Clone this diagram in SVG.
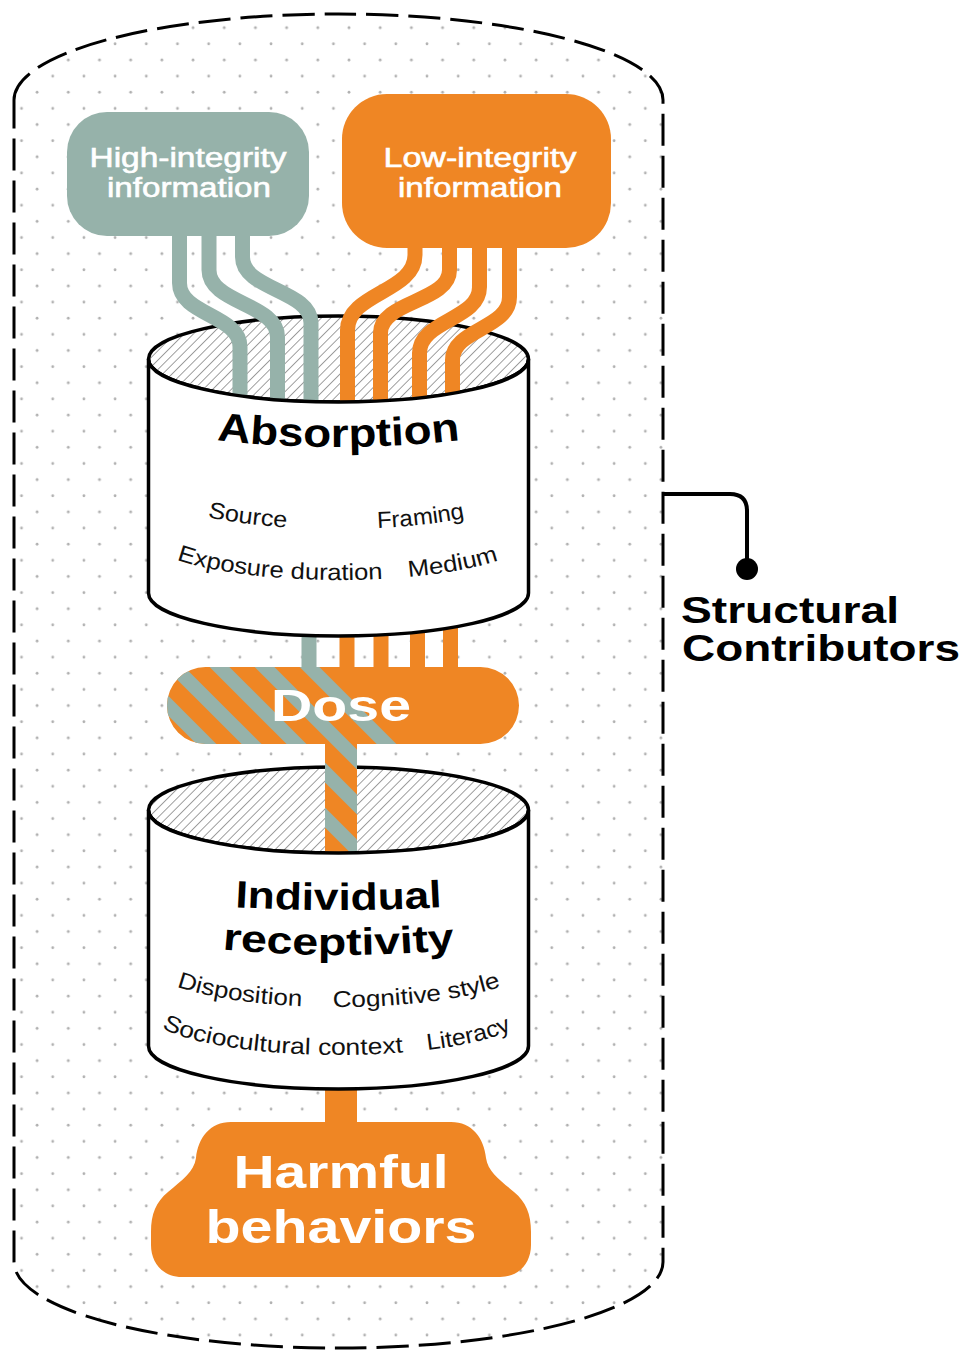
<svg xmlns="http://www.w3.org/2000/svg" xmlns:xlink="http://www.w3.org/1999/xlink" width="963" height="1351" viewBox="0 0 963 1351">
<style>
.pg{fill:none;stroke:#96B2AA;stroke-width:15}
.po{fill:none;stroke:#EF8624;stroke-width:15}
.cyl{fill:#fff;stroke:#000;stroke-width:3.5}
.top{fill:url(#hatch);stroke:#000;stroke-width:3.5}
.lbl{font-family:'Liberation Sans',Arial,sans-serif;font-size:23px;fill:#111}
.ttl{font-family:'Liberation Sans',Arial,sans-serif;font-weight:bold;fill:#000}
.wt{font-family:'Liberation Sans',Arial,sans-serif;fill:#fff;stroke:#fff;stroke-width:0.6}
.wb{font-family:'Liberation Sans',Arial,sans-serif;font-weight:bold;fill:#fff}
</style>
<defs>
<pattern id="dots" patternUnits="userSpaceOnUse" x="60.5" y="51.93" width="31.19" height="32.28">
<circle cx="7.8" cy="8.07" r="1.4" fill="#b0b0b0"/>
<circle cx="23.4" cy="24.21" r="1.4" fill="#b0b0b0"/>
</pattern>
<pattern id="hatch" patternUnits="userSpaceOnUse" width="6.6" height="6.6" patternTransform="rotate(45)">
<rect width="6.6" height="6.6" fill="#fff"/>
<line x1="3.3" y1="0" x2="3.3" y2="6.6" stroke="#9a9a9a" stroke-width="1"/>
</pattern>
<clipPath id="doseClip">
<rect x="167" y="667" width="352" height="77" rx="38.5"/>
<rect x="325" y="735" width="32" height="125"/>
</clipPath>
<path id="arcA1" d="M148.5,486 A190,43 0 0 0 528.5,486"/>
<path id="arcA2" d="M148.5,537 A190,43 0 0 0 528.5,537"/>
<path id="arcI1" d="M148.5,964 A190,43 0 0 0 528.5,964"/>
<path id="arcI2" d="M148.5,1012 A190,43 0 0 0 528.5,1012"/>
<path id="arcAbs" d="M200,438 Q338.5,456 477,438"/>
<path id="arcInd" d="M200,905 Q338.5,915 477,905"/>
<path id="arcRec" d="M200,947 Q338.5,963 477,947"/>
</defs>
<rect width="963" height="1351" fill="#fff"/>

<g id="structural-contributors">
<path d="M14,100 A324.5,86 0 0 1 663,100 V1262 A324.5,86 0 0 1 14,1262 Z" fill="url(#dots)"/>
<path d="M14,100 A324.5,86 0 0 1 663,100 V1262 A324.5,86 0 0 1 14,1262 Z" fill="none" stroke="#000" stroke-width="3" stroke-dasharray="32 10"/>
<path d="M663,494 H730 Q747,494 747,511 V569" fill="none" stroke="#000" stroke-width="4"/>
<circle cx="747" cy="569" r="11" fill="#000"/>
<text class="ttl" font-size="36" x="681" y="623" textLength="218" lengthAdjust="spacingAndGlyphs">Structural</text>
<text class="ttl" font-size="36" x="682" y="661" textLength="278" lengthAdjust="spacingAndGlyphs">Contributors</text>
</g>

<g id="absorption-top">
<ellipse class="top" cx="338.5" cy="359" rx="190" ry="43"/>
</g>

<g id="connectors">
<path class="pg" d="M179.5,225 V283 C179.5,315 240,315 240,347 V405"/>
<path class="pg" d="M209,225 V270 C209,303.5 277.5,303.5 277.5,337 V405"/>
<path class="pg" d="M242.5,225 V257 C242.5,290 311,290 311,323 V405"/>
<path class="po" d="M415,240 V255 C415,292 347.5,293 347.5,330 V405"/>
<path class="po" d="M449.5,240 V270 C449.5,302 380.5,301 380.5,333 V405"/>
<path class="po" d="M479.5,240 V287 C479.5,320 419.5,320 419.5,353 V405"/>
<path class="po" d="M509.5,240 V297 C509.5,329 452.5,329 452.5,360 V405"/>
<path class="pg" d="M309,600 V672"/>
<path class="po" d="M347,600 V672"/>
<path class="po" d="M381,600 V672"/>
<path class="po" d="M417.5,600 V672"/>
<path class="po" d="M450.5,600 V672"/>
<rect x="325" y="1060" width="32" height="70" fill="#EF8624"/>
</g>

<g id="high-integrity">
<rect x="67" y="112" width="242" height="124" rx="40" fill="#96B2AA"/>
<text class="wt" font-size="27" x="188" y="167" text-anchor="middle" textLength="197" lengthAdjust="spacingAndGlyphs">High-integrity</text>
<text class="wt" font-size="27" x="189" y="197" text-anchor="middle" textLength="164" lengthAdjust="spacingAndGlyphs">information</text>
</g>

<g id="low-integrity">
<rect x="342" y="94" width="269" height="154" rx="45" fill="#EF8624"/>
<text class="wt" font-size="27" x="480" y="167" text-anchor="middle" textLength="193" lengthAdjust="spacingAndGlyphs">Low-integrity</text>
<text class="wt" font-size="27" x="480" y="197" text-anchor="middle" textLength="164" lengthAdjust="spacingAndGlyphs">information</text>
</g>

<g id="absorption">
<path class="cyl" d="M148.5,359 A190,43 0 0 0 528.5,359 V593 A190,43 0 0 1 148.5,593 Z"/>
<text class="ttl" font-size="40"><textPath href="#arcAbs" startOffset="50%" text-anchor="middle" textLength="244" lengthAdjust="spacingAndGlyphs">Absorption</textPath></text>
<text class="lbl"><textPath href="#arcA1" startOffset="110" text-anchor="middle" textLength="80" lengthAdjust="spacingAndGlyphs">Source</textPath></text>
<text class="lbl"><textPath href="#arcA1" startOffset="284.6" text-anchor="middle" textLength="88" lengthAdjust="spacingAndGlyphs">Framing</textPath></text>
<text class="lbl"><textPath href="#arcA2" startOffset="142" text-anchor="middle" textLength="208" lengthAdjust="spacingAndGlyphs">Exposure duration</textPath></text>
<text class="lbl"><textPath href="#arcA2" startOffset="317.6" text-anchor="middle" textLength="92" lengthAdjust="spacingAndGlyphs">Medium</textPath></text>
</g>

<g id="individual-top">
<ellipse class="top" cx="338.5" cy="810" rx="190" ry="43"/>
</g>

<g id="dose">
<g clip-path="url(#doseClip)">
<rect x="160" y="660" width="370" height="210" fill="#EF8624"/>
<g stroke="#96B2AA" stroke-width="14">
<line x1="242.5" y1="600" x2="542.5" y2="900"/>
<line x1="197.5" y1="600" x2="497.5" y2="900"/>
<line x1="152.5" y1="600" x2="452.5" y2="900"/>
<line x1="107.5" y1="600" x2="407.5" y2="900"/>
<line x1="62.5" y1="600" x2="362.5" y2="900"/>
<line x1="17.5" y1="600" x2="317.5" y2="900"/>
</g>
</g>
<text class="wb" font-size="44" x="341" y="721" text-anchor="middle" textLength="140" lengthAdjust="spacingAndGlyphs">Dose</text>
</g>

<g id="individual-receptivity">
<path class="cyl" d="M148.5,810 A190,43 0 0 0 528.5,810 V1046 A190,43 0 0 1 148.5,1046 Z"/>
<text class="ttl" font-size="38"><textPath href="#arcInd" startOffset="50%" text-anchor="middle" textLength="207" lengthAdjust="spacingAndGlyphs">Individual</textPath></text>
<text class="ttl" font-size="38"><textPath href="#arcRec" startOffset="50%" text-anchor="middle" textLength="233" lengthAdjust="spacingAndGlyphs">receptivity</textPath></text>
<text class="lbl"><textPath href="#arcI1" startOffset="101.5" text-anchor="middle" textLength="127" lengthAdjust="spacingAndGlyphs">Disposition</textPath></text>
<text class="lbl"><textPath href="#arcI1" startOffset="281" text-anchor="middle" textLength="170" lengthAdjust="spacingAndGlyphs">Cognitive style</textPath></text>
<text class="lbl"><textPath href="#arcI2" startOffset="144" text-anchor="middle" textLength="245" lengthAdjust="spacingAndGlyphs">Sociocultural context</textPath></text>
<text class="lbl"><textPath href="#arcI2" startOffset="334" text-anchor="middle" textLength="87" lengthAdjust="spacingAndGlyphs">Literacy</textPath></text>
</g>

<g id="harmful-behaviors">
<path fill="#EF8624" d="M231,1122 H451 C472,1122 484,1138 486,1158 C488,1172 500,1180 514,1192 C526,1202 531,1214 531,1232 V1245 C531,1263 519,1277 500,1277 H182 C163,1277 151,1263 151,1245 V1232 C151,1214 156,1202 168,1192 C182,1180 194,1172 196,1158 C198,1138 210,1122 231,1122 Z"/>
<text class="wb" font-size="46" x="341" y="1188" text-anchor="middle" textLength="215" lengthAdjust="spacingAndGlyphs">Harmful</text>
<text class="wb" font-size="46" x="341" y="1243" text-anchor="middle" textLength="271" lengthAdjust="spacingAndGlyphs">behaviors</text>
</g>
</svg>
